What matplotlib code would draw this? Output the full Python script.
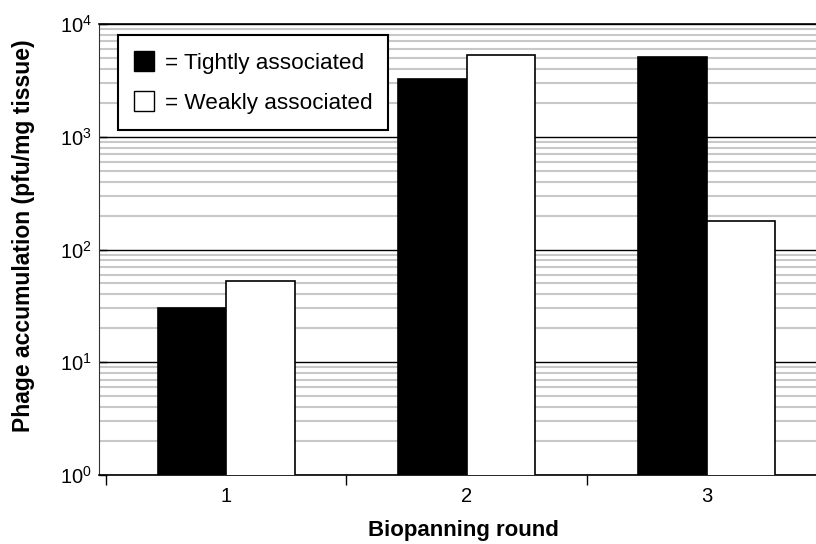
import matplotlib
matplotlib.use("Agg")
import matplotlib.pyplot as plt
import numpy as np
from matplotlib.ticker import LogLocator, FixedLocator, NullFormatter
from matplotlib.patches import Patch

plt.rcParams['font.family'] = ['Liberation Sans', 'DejaVu Sans']

rounds = ["1", "2", "3"]
tightly = [30, 3250, 5100]
weakly = [53, 5300, 180]
series_labels = ["= Tightly associated", "= Weakly associated"]

fig = plt.figure(figsize=(8.16, 5.44), dpi=100)
ax = fig.add_axes([99/816, 1-475/544, (827-99)/816, (475-24)/544])

x = np.arange(1, len(rounds)+1)
w = 0.285
ax.bar(x - w/2, tightly, w, color='black', edgecolor='black', linewidth=1.2, zorder=3)
ax.bar(x + w/2, weakly, w, color='white', edgecolor='black', linewidth=1.2, zorder=3)

ax.set_yscale('log')
ax.set_ylim(1, 1e4)
ax.set_xlim(0.5 - 7/240, 3.5)

ax.yaxis.set_major_locator(LogLocator(base=10, numticks=10))
ax.yaxis.set_minor_locator(LogLocator(base=10, subs=np.arange(2, 10), numticks=20))
ax.yaxis.set_minor_formatter(NullFormatter())
ax.grid(True, which='minor', axis='y', color='#c8c8c8', linewidth=1.5, zorder=0)
ax.grid(True, which='major', axis='y', color='black', linewidth=1.0, zorder=1)
ax.set_axisbelow(True)

ax.set_xticks(x)
ax.set_xticklabels(rounds)
ax.xaxis.set_minor_locator(FixedLocator([0.5, 1.5, 2.5]))
ax.tick_params(axis='x', which='major', length=0, labelsize=14.5, pad=9)
ax.tick_params(axis='x', which='minor', length=7, width=1, direction='out')
ax.tick_params(axis='y', which='major', length=6, width=1, direction='in', labelsize=14.5, pad=5)
ax.tick_params(axis='y', which='minor', length=0)

ax.spines['right'].set_visible(False)
ax.spines['left'].set_color('#333333')
ax.spines['bottom'].set_linewidth(1.2)
ax.spines['top'].set_linewidth(1.2)

ax.set_ylabel("Phage accumulation (pfu/mg tissue)", fontsize=16.5, fontweight='bold')
ax.yaxis.set_label_coords(-0.088, 0.53)
ax.set_xlabel("Biopanning round", fontsize=16, fontweight='bold', labelpad=10)

handles = [Patch(facecolor='black', edgecolor='black'),
           Patch(facecolor='white', edgecolor='black')]
leg = ax.legend(handles, series_labels, loc='upper left', bbox_to_anchor=(0.026, 0.9756),
                borderaxespad=0, fontsize=16.2, frameon=True, fancybox=False,
                edgecolor='black', framealpha=1, handlelength=0.9, handleheight=0.95,
                handletextpad=0.45, labelspacing=0.78, borderpad=0.72)
leg.get_frame().set_linewidth(1.5)
leg.set_zorder(5)

fig.savefig("out.png", dpi=100)
